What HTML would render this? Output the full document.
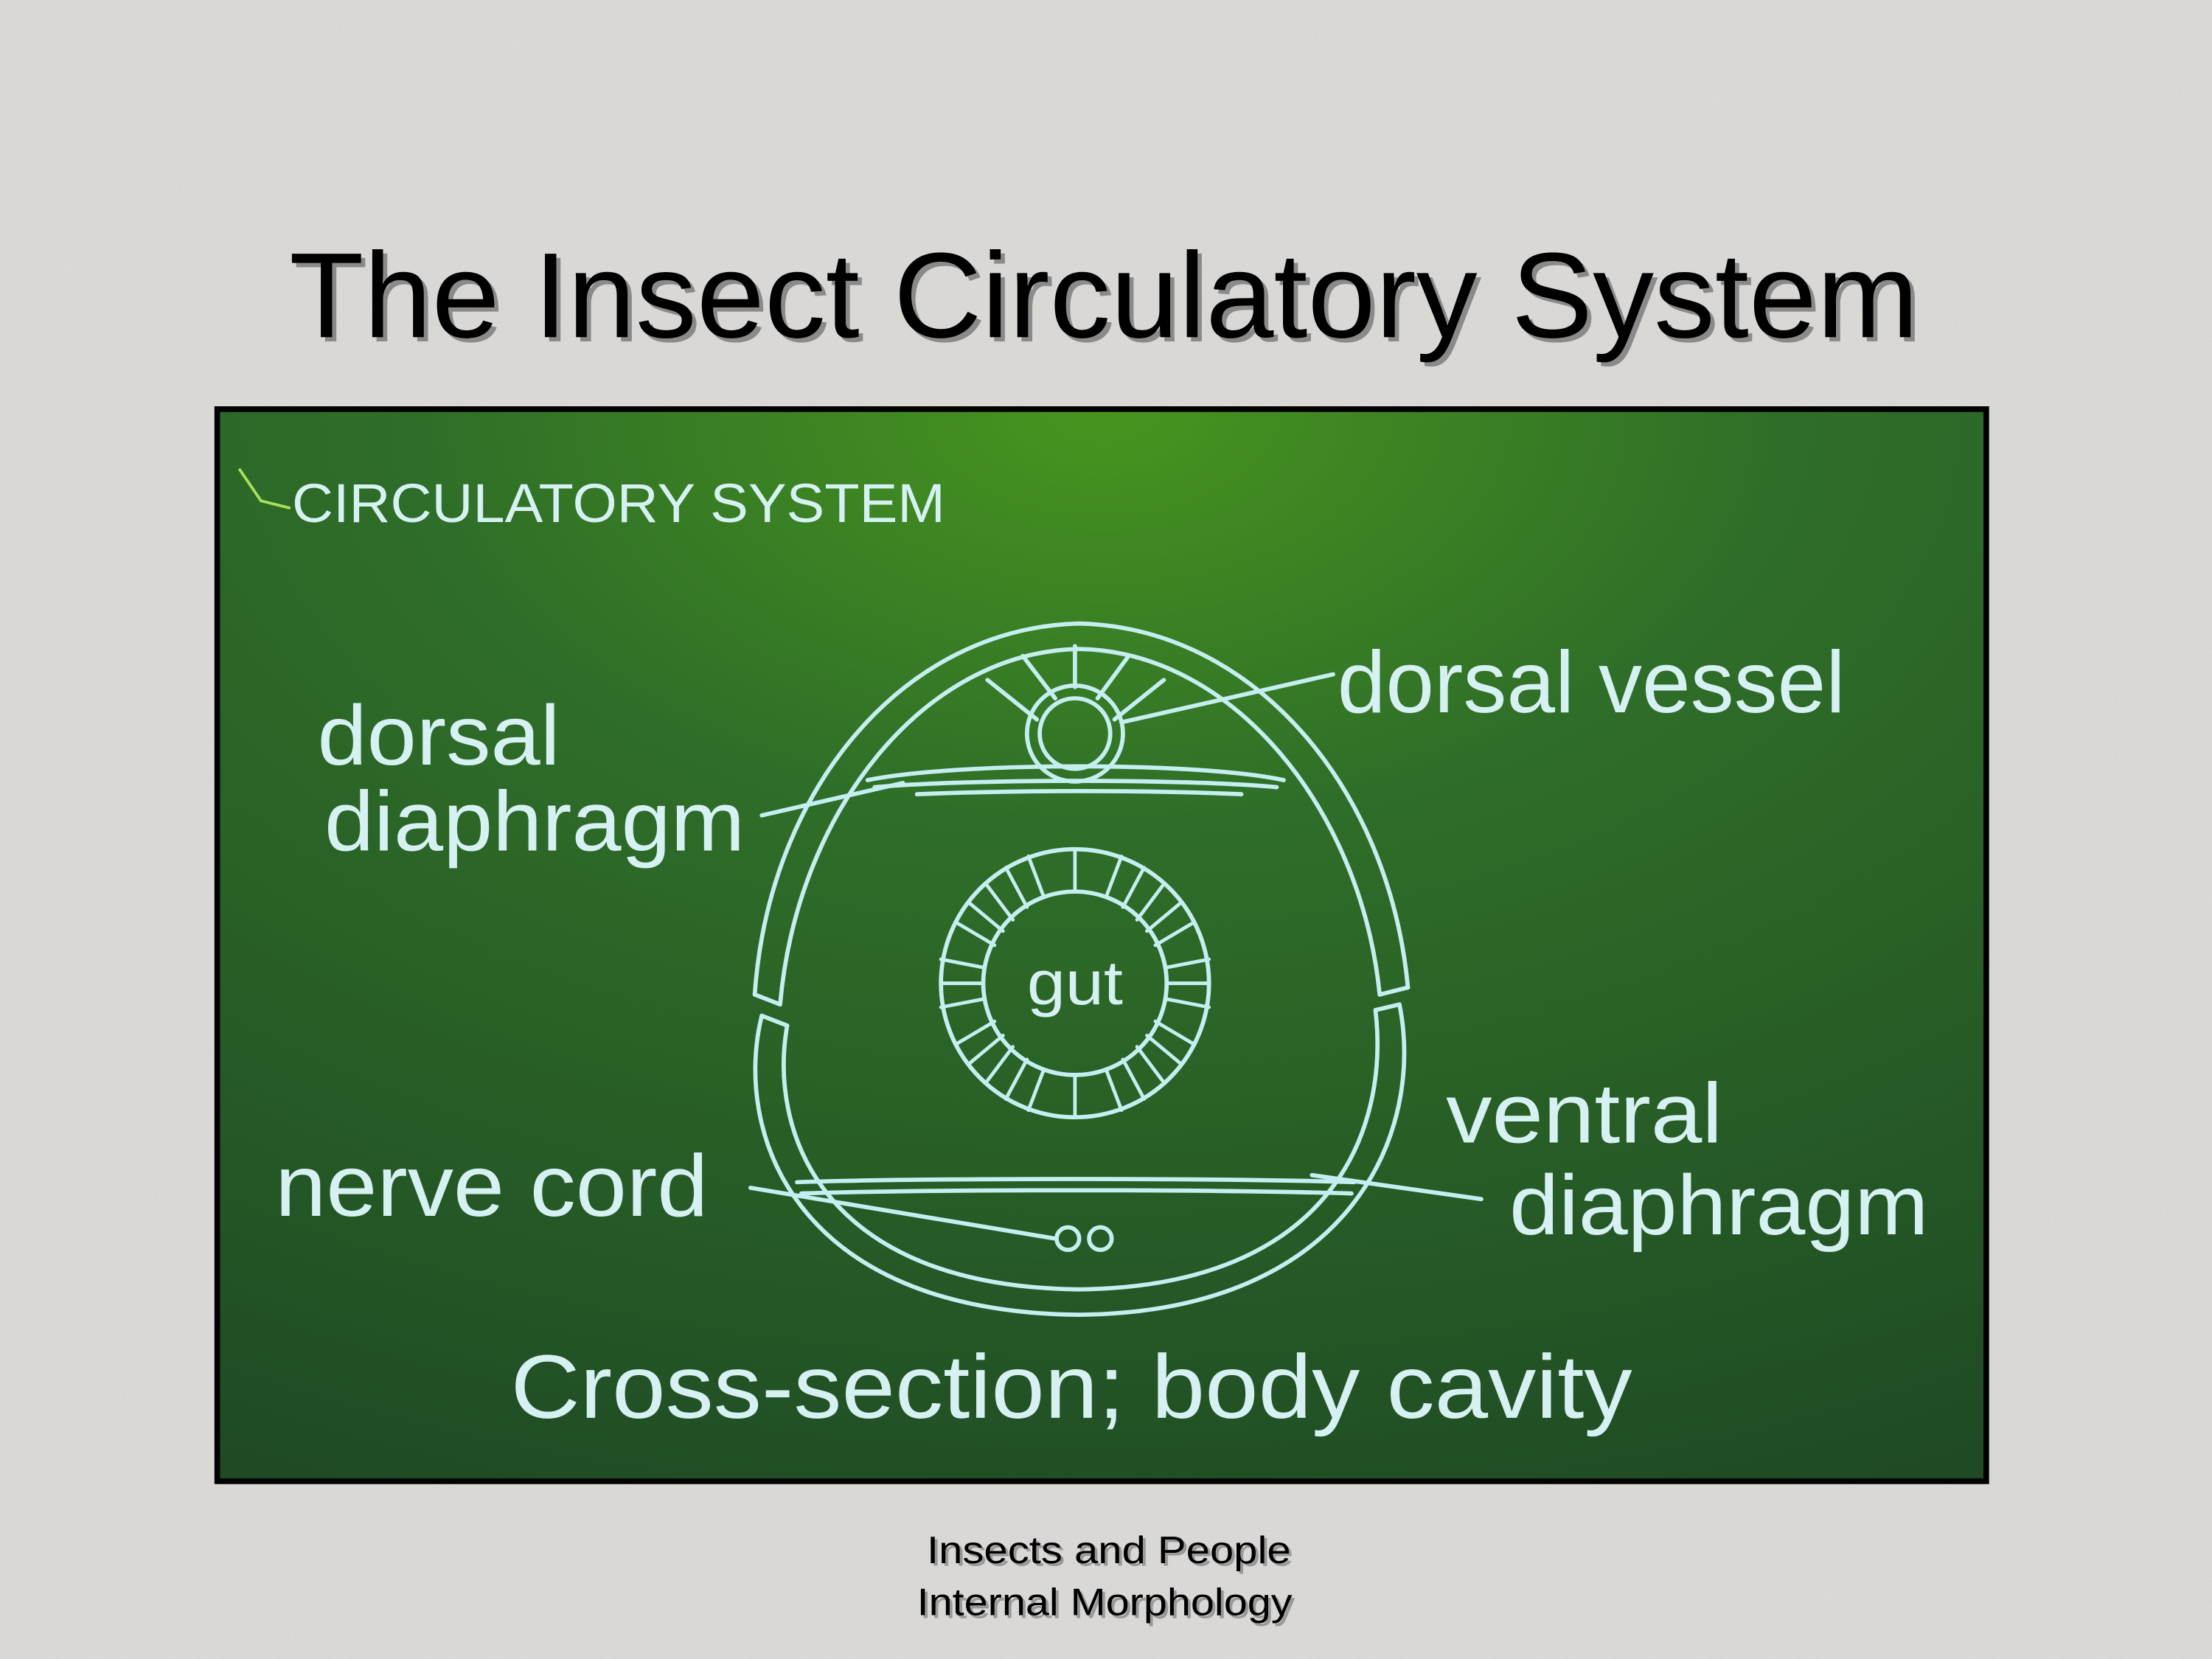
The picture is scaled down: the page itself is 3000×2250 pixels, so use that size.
<!DOCTYPE html>
<html><head><meta charset="utf-8"><style>
html,body{margin:0;padding:0;}
body{width:3000px;height:2250px;overflow:hidden;background:#dddbd8;}
svg{display:block;}
</style></head><body>
<svg width="3000" height="2250" viewBox="0 0 1568 1176" xmlns="http://www.w3.org/2000/svg">
<defs>
<radialGradient id="g" cx="0.5" cy="0" r="1.1">
<stop offset="0" stop-color="#47951f"/>
<stop offset="0.35" stop-color="#2f6e28"/>
<stop offset="1" stop-color="#1f4a24"/>
</radialGradient>
<filter id="n"><feTurbulence type="fractalNoise" baseFrequency="0.9" numOctaves="2" seed="3"/><feColorMatrix values="0 0 0 0 0.55 0 0 0 0 0.55 0 0 0 0 0.55 0 0 0 0.35 0"/></filter>
</defs>
<rect width="1568" height="1176" fill="#dedcd9"/>
<rect width="1568" height="1176" filter="url(#n)"/>
<g font-family="Liberation Sans, sans-serif">
<text x="208" y="242" font-size="86" fill="#8a8a8a" textLength="1155" lengthAdjust="spacingAndGlyphs">The Insect Circulatory System</text>
<text x="205" y="239" font-size="86" fill="#000" textLength="1155" lengthAdjust="spacingAndGlyphs">The Insect Circulatory System</text>
<text x="659" y="1110" font-size="27" fill="#999" textLength="258" lengthAdjust="spacingAndGlyphs">Insects and People</text>
<text x="657" y="1108" font-size="27" fill="#000" textLength="258" lengthAdjust="spacingAndGlyphs">Insects and People</text>
<text x="652" y="1147" font-size="27" fill="#999" textLength="266" lengthAdjust="spacingAndGlyphs">Internal Morphology</text>
<text x="650" y="1145" font-size="27" fill="#000" textLength="266" lengthAdjust="spacingAndGlyphs">Internal Morphology</text>
</g>
<rect x="154" y="290" width="1254" height="760" fill="url(#g)" stroke="#000" stroke-width="4"/>
<g fill="none" stroke="#c4eef0" stroke-width="3" stroke-linecap="round">
<path d="M535 705 C 545 560, 640 445, 765 442 C 890 445, 985 560, 998 700"/>
<path d="M553 712 C 565 575, 655 462, 765 460 C 875 462, 965 575, 978 705"/>
<path d="M535 705 L553 712 M998 700 L978 705"/>
<path d="M540 720 L558 727 M992 712 L975 716"/>
<path d="M540 720 C 520 800, 560 930, 765 932 C 960 930, 1010 800, 992 712"/>
<path d="M558 727 C 545 800, 580 912, 765 914 C 945 912, 985 800, 975 716"/>
<path d="M615 553 C 680 540, 850 540, 910 553"/>
<path d="M620 558 C 690 552, 840 552, 905 558"/>
<path d="M650 563 C 720 560, 810 560, 880 563"/>
<path d="M700 482 L735 510 M725 465 L748 495 M762 458 L762 487 M800 465 L778 495 M825 482 L790 510"/>
<circle cx="762" cy="520" r="34"/>
<circle cx="762" cy="520" r="25"/>
<circle cx="762" cy="697" r="95"/>
<circle cx="762" cy="697" r="65"/>
<g stroke-width="2.5">
<path d="M762 602 V632 M762 762 V792 M667 697 H697 M827 697 H857"/>
<path d="M795 607 L784 636 M729 607 L740 636 M795 787 L784 758 M729 787 L740 758"/>
<path d="M824 628 L806 652 M700 628 L718 652 M824 766 L806 742 M700 766 L718 742"/>
<path d="M846 654 L819 670 M678 654 L705 670 M846 740 L819 724 M678 740 L705 724"/>
<path d="M857 680 L826 686 M667 680 L698 686 M857 714 L826 708 M667 714 L698 708"/>
<path d="M811 615 L796 643 M713 615 L728 643 M811 779 L796 751 M713 779 L728 751"/>
<path d="M837 640 L813 660 M687 640 L711 660 M837 754 L813 734 M687 754 L711 734"/>
</g>
<path d="M565 838 C 650 835, 870 835, 960 838"/>
<path d="M568 846 C 660 843, 860 843, 958 846"/>
<circle cx="757" cy="878" r="8"/>
<circle cx="780" cy="878" r="8"/>
<path d="M795 512 L945 478"/>
<path d="M540 578 L640 555"/>
<path d="M532 842 L748 878"/>
<path d="M930 833 L1050 850"/>
<path d="M170 333 L185 355 L205 360" stroke="#a8e05a" stroke-width="2"/>
</g>
<g font-family="Liberation Sans, sans-serif" fill="#d6f1f2">
<text x="207" y="370" font-size="39" textLength="463" lengthAdjust="spacingAndGlyphs">CIRCULATORY SYSTEM</text>
<text x="948" y="505" font-size="62" textLength="360" lengthAdjust="spacingAndGlyphs">dorsal vessel</text>
<text x="225" y="542" font-size="60" textLength="172" lengthAdjust="spacingAndGlyphs">dorsal</text>
<text x="230" y="603" font-size="60" textLength="298" lengthAdjust="spacingAndGlyphs">diaphragm</text>
<text x="195" y="862" font-size="62" textLength="307" lengthAdjust="spacingAndGlyphs">nerve cord</text>
<text x="1025" y="810" font-size="60" textLength="196" lengthAdjust="spacingAndGlyphs">ventral</text>
<text x="1070" y="875" font-size="60" textLength="297" lengthAdjust="spacingAndGlyphs">diaphragm</text>
<text x="728" y="712" font-size="44" textLength="68" lengthAdjust="spacingAndGlyphs">gut</text>
<text x="362" y="1005" font-size="64" textLength="795" lengthAdjust="spacingAndGlyphs">Cross-section; body cavity</text>
</g>
</svg>
</body></html>
